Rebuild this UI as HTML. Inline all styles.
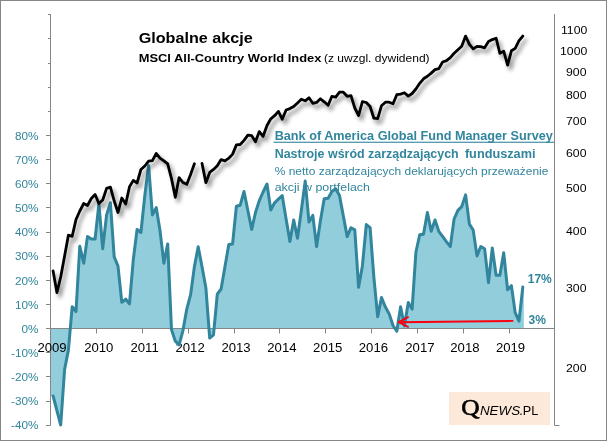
<!DOCTYPE html>
<html lang="pl">
<head>
<meta charset="utf-8">
<title>Globalne akcje</title>
<style>
html,body{margin:0;padding:0;background:#fff;}
body{width:607px;height:441px;overflow:hidden;font-family:"Liberation Sans",sans-serif;}
svg{display:block;}
text{font-family:"Liberation Sans",sans-serif;}
.serif{font-family:"Liberation Serif",serif;}
</style>
</head>
<body>
<svg width="607" height="441" viewBox="0 0 607 441">
<defs>
<filter id="sh" x="-5%" y="-5%" width="110%" height="115%">
<feGaussianBlur in="SourceAlpha" stdDeviation="1.9" result="b"/>
<feOffset in="b" dx="2.6" dy="4" result="o"/>
<feComponentTransfer in="o" result="s"><feFuncA type="linear" slope="0.46"/></feComponentTransfer>
<feMerge><feMergeNode in="s"/><feMergeNode in="SourceGraphic"/></feMerge>
</filter>
</defs>
<rect x="0" y="0" width="607" height="441" fill="#fff"/>
<rect x="0.5" y="0.5" width="606" height="440" fill="none" stroke="#868686" stroke-width="1"/>
<!-- logo -->
<rect x="449" y="392" width="101" height="33" fill="#fde9d9"/>
<text class="serif" x="461.2" y="415.2" font-size="22.8" fill="#000" stroke="#000" stroke-width="0.6" textLength="18.4" lengthAdjust="spacingAndGlyphs">Q</text>
<text x="479.9" y="415.3" font-size="12.9" font-style="italic" fill="#000" textLength="40.2" lengthAdjust="spacingAndGlyphs">NEWS</text>
<text x="519.2" y="415.3" font-size="12.9" fill="#000" textLength="19" lengthAdjust="spacingAndGlyphs">.PL</text>
<!-- area -->
<path d="M51,328.4 L51,396 L53.1,396 L56.9,410.5 L60.7,425 L64.6,369.5 L68.4,350.1 L72.2,306.7 L76,311.5 L79.8,246.3 L83.7,263.2 L87.5,236.6 L91.3,239 L95.1,239 L98.9,204 L102.7,248.7 L106.6,214.9 L110.4,202.8 L114.2,256.9 L118,266.1 L121.8,302.3 L125.7,299.2 L129.5,303.8 L133.3,259.6 L137.1,229.4 L140.9,232.5 L144.8,195.6 L148.6,165.4 L152.4,214.9 L156.2,207.6 L160,230.6 L163.9,263.2 L167.7,243.9 L171.5,329.6 L175.3,341.2 L179.1,344.8 L182.9,330.8 L186.8,309.1 L190.6,294.6 L194.4,266.6 L198.2,246.8 L202,266.6 L205.9,288.1 L209.7,338.1 L213.5,334.9 L217.3,294.1 L221.1,289 L225,266.6 L228.8,244.4 L232.6,243.9 L236.4,206.2 L240.2,205.2 L244,191.5 L247.9,210.8 L251.7,229.4 L255.5,212.5 L259.3,200.6 L263.1,192 L267,184 L270.8,210.1 L274.6,202.8 L278.4,199.2 L282.2,195.6 L286.1,219 L289.9,241.5 L293.7,220 L297.5,238.3 L301.3,210.8 L305.2,181.1 L309,222.1 L312.8,215.4 L316.6,246.5 L320.4,220.9 L324.2,198.7 L328.1,198.2 L331.9,191.5 L335.7,188.8 L339.5,195.6 L343.3,215.9 L347.2,236.6 L351,227.7 L354.8,229.9 L358.6,287.3 L362.4,265.9 L366.3,224.6 L370.1,227.7 L373.9,277.7 L377.7,316.8 L381.5,297.5 L385.4,307.1 L389.2,313.9 L393,325.5 L396.8,331.3 L400.6,306.7 L404.4,326 L408.3,302.6 L412.1,309.1 L415.9,252.3 L419.7,234.7 L423.5,234.2 L427.4,212.5 L431.2,231.3 L435,220 L438.8,231.3 L442.6,236.4 L446.5,241.9 L450.3,246.5 L454.1,219 L457.9,210.3 L461.7,206.7 L465.6,194.9 L469.4,224.1 L473.2,230.1 L477,255.9 L480.8,246.5 L484.6,248.7 L488.5,282.5 L492.3,248 L496.1,275.3 L499.9,275.3 L503.7,252.8 L507.6,289.8 L511.4,285.7 L515.2,312.7 L519,321.2 L522.8,287.1 L523.8,287.1 L523.8,328.4 Z" fill="#92cddc"/>
<!-- axes -->
<g stroke="#868686" stroke-width="1" fill="none">
<path d="M50.5,14V425.5"/>
<path d="M554.5,14V425.5M554.5,425.5H559.5"/>
<path d="M50.5,328.5H554.5"/>
<path d="M46,425.5H50.5M46,401.5H50.5M46,376.5H50.5M46,352.5H50.5M46,328.5H50.5M46,304.5H50.5M46,280.5H50.5M46,256.5H50.5M46,232.5H50.5M46,207.5H50.5M46,183.5H50.5M46,159.5H50.5M46,135.5H50.5M48,111.5H50.5M48,87.5H50.5M48,63.5H50.5M48,38.5H50.5M48,14.5H50.5"/>
<path d="M96.5,328.5V333.5M142.5,328.5V333.5M188.5,328.5V333.5M234.5,328.5V333.5M279.5,328.5V333.5M325.5,328.5V333.5M371.5,328.5V333.5M417.5,328.5V333.5M463.5,328.5V333.5M509.5,328.5V333.5"/>
</g>
<!-- titles -->
<text x="138.7" y="42.6" font-size="15.2" font-weight="bold" fill="#000" textLength="114" lengthAdjust="spacingAndGlyphs">Globalne akcje</text>
<text x="138.7" y="61.8" font-size="11.6" font-weight="bold" fill="#000" textLength="182.7" lengthAdjust="spacingAndGlyphs">MSCI All-Country World Index</text>
<text x="324" y="61.7" font-size="10.7" fill="#000" textLength="105.6" lengthAdjust="spacingAndGlyphs">(z uwzgl. dywidend)</text>
<g fill="#31859c">
<text x="274.7" y="139.8" font-size="11.9" font-weight="bold" textLength="278.1" lengthAdjust="spacingAndGlyphs">Bank of America Global Fund Manager Survey</text>
<rect x="273.5" y="141.7" width="280.5" height="1.1"/>
<text x="274.7" y="157.6" font-size="11.9" font-weight="bold" textLength="184" lengthAdjust="spacingAndGlyphs">Nastroje wśród zarządzających</text>
<text x="464.9" y="157.6" font-size="11.9" font-weight="bold" textLength="70.6" lengthAdjust="spacingAndGlyphs">funduszami</text>
<text x="274.7" y="174.9" font-size="10.7" textLength="273.7" lengthAdjust="spacingAndGlyphs">% netto zarządzających deklarujących przeważenie</text>
<text x="274.7" y="190.8" font-size="10.7" textLength="95.3" lengthAdjust="spacingAndGlyphs">akcji w portfelach</text>
</g>
<!-- axis labels -->
<g font-size="11.4" fill="#31859c"><text transform="matrix(1.03 0 0 1 38.5 429.2)" text-anchor="end">-40%</text><text transform="matrix(1.03 0 0 1 38.5 405.1)" text-anchor="end">-30%</text><text transform="matrix(1.03 0 0 1 38.5 381)" text-anchor="end">-20%</text><text transform="matrix(1.03 0 0 1 38.5 356.9)" text-anchor="end">-10%</text><text transform="matrix(1.03 0 0 1 38.5 332.7)" text-anchor="end">0%</text><text transform="matrix(1.03 0 0 1 38.5 308.6)" text-anchor="end">10%</text><text transform="matrix(1.03 0 0 1 38.5 284.5)" text-anchor="end">20%</text><text transform="matrix(1.03 0 0 1 38.5 260.4)" text-anchor="end">30%</text><text transform="matrix(1.03 0 0 1 38.5 236.3)" text-anchor="end">40%</text><text transform="matrix(1.03 0 0 1 38.5 212.2)" text-anchor="end">50%</text><text transform="matrix(1.03 0 0 1 38.5 188)" text-anchor="end">60%</text><text transform="matrix(1.03 0 0 1 38.5 163.9)" text-anchor="end">70%</text><text transform="matrix(1.03 0 0 1 38.5 139.8)" text-anchor="end">80%</text></g>
<g font-size="11.4" fill="#000"><text transform="matrix(1.075 0 0 1 587.3 34.1)" text-anchor="end">1100</text><text transform="matrix(1.075 0 0 1 587.3 55.3)" text-anchor="end">1000</text><text transform="matrix(1.075 0 0 1 586.5 76.3)" text-anchor="end">900</text><text transform="matrix(1.075 0 0 1 586.5 99.2)" text-anchor="end">800</text><text transform="matrix(1.075 0 0 1 586.5 125.1)" text-anchor="end">700</text><text transform="matrix(1.075 0 0 1 586.5 157.3)" text-anchor="end">600</text><text transform="matrix(1.075 0 0 1 586.5 192.2)" text-anchor="end">500</text><text transform="matrix(1.075 0 0 1 586.5 235.3)" text-anchor="end">400</text><text transform="matrix(1.075 0 0 1 586.5 292.1)" text-anchor="end">300</text><text transform="matrix(1.075 0 0 1 586.5 372.1)" text-anchor="end">200</text></g>
<g font-size="12.3" fill="#000"><text transform="matrix(1.07 0 0 1 52 352)" text-anchor="middle">2009</text><text transform="matrix(1.07 0 0 1 98.8 352)" text-anchor="middle">2010</text><text transform="matrix(1.07 0 0 1 144.6 352)" text-anchor="middle">2011</text><text transform="matrix(1.07 0 0 1 190.1 352)" text-anchor="middle">2012</text><text transform="matrix(1.07 0 0 1 236 352)" text-anchor="middle">2013</text><text transform="matrix(1.07 0 0 1 281.9 352)" text-anchor="middle">2014</text><text transform="matrix(1.07 0 0 1 327.7 352)" text-anchor="middle">2015</text><text transform="matrix(1.07 0 0 1 373.4 352)" text-anchor="middle">2016</text><text transform="matrix(1.07 0 0 1 419.9 352)" text-anchor="middle">2017</text><text transform="matrix(1.07 0 0 1 464.9 352)" text-anchor="middle">2018</text><text transform="matrix(1.07 0 0 1 510.5 352)" text-anchor="middle">2019</text></g>
<!-- teal line -->
<polyline points="53.1,396 56.9,410.5 60.7,425 64.6,369.5 68.4,350.1 72.2,306.7 76,311.5 79.8,246.3 83.7,263.2 87.5,236.6 91.3,239 95.1,239 98.9,204 102.7,248.7 106.6,214.9 110.4,202.8 114.2,256.9 118,266.1 121.8,302.3 125.7,299.2 129.5,303.8 133.3,259.6 137.1,229.4 140.9,232.5 144.8,195.6 148.6,165.4 152.4,214.9 156.2,207.6 160,230.6 163.9,263.2 167.7,243.9 171.5,329.6 175.3,341.2 179.1,344.8 182.9,330.8 186.8,309.1 190.6,294.6 194.4,266.6 198.2,246.8 202,266.6 205.9,288.1 209.7,338.1 213.5,334.9 217.3,294.1 221.1,289 225,266.6 228.8,244.4 232.6,243.9 236.4,206.2 240.2,205.2 244,191.5 247.9,210.8 251.7,229.4 255.5,212.5 259.3,200.6 263.1,192 267,184 270.8,210.1 274.6,202.8 278.4,199.2 282.2,195.6 286.1,219 289.9,241.5 293.7,220 297.5,238.3 301.3,210.8 305.2,181.1 309,222.1 312.8,215.4 316.6,246.5 320.4,220.9 324.2,198.7 328.1,198.2 331.9,191.5 335.7,188.8 339.5,195.6 343.3,215.9 347.2,236.6 351,227.7 354.8,229.9 358.6,287.3 362.4,265.9 366.3,224.6 370.1,227.7 373.9,277.7 377.7,316.8 381.5,297.5 385.4,307.1 389.2,313.9 393,325.5 396.8,331.3 400.6,306.7 404.4,326 408.3,302.6 412.1,309.1 415.9,252.3 419.7,234.7 423.5,234.2 427.4,212.5 431.2,231.3 435,220 438.8,231.3 442.6,236.4 446.5,241.9 450.3,246.5 454.1,219 457.9,210.3 461.7,206.7 465.6,194.9 469.4,224.1 473.2,230.1 477,255.9 480.8,246.5 484.6,248.7 488.5,282.5 492.3,248 496.1,275.3 499.9,275.3 503.7,252.8 507.6,289.8 511.4,285.7 515.2,312.7 519,321.2 522.8,287.1" fill="none" stroke="#31859c" stroke-width="3" stroke-linejoin="round" stroke-linecap="round"/>
<!-- black line -->
<g fill="none" stroke="#000" stroke-width="2.8" stroke-linejoin="round" stroke-linecap="round" filter="url(#sh)">
<polyline points="53.1,271 56.9,292.6 60.7,277 64.6,256 68.4,235.2 72.2,236.3 76,219.5 79.8,211 83.7,203.5 87.5,205.5 91.3,198.5 95.1,194.5 98.9,203.5 102.7,200 106.6,188.4 110.4,187.2 114.2,201 118,212.5 121.8,198 125.7,204 129.5,186.7 133.3,180.4 137.1,183 140.9,169.5 144.8,166 148.6,161.2 152.4,160.6 156.2,153.5 160,158.2 163.9,160.8 167.7,163.9 171.5,178.6 175.3,197.3 179.1,177.6 182.9,182.5 186.8,184.3 190.6,174.5 194.4,163.7"/>
<polyline points="202,163.3 205.9,182.7 209.7,172.4 213.5,169.4 217.3,165.7 221.1,159.6 225,160.8 228.8,158.2 232.6,154.1 236.4,144.9 240.2,144.5 244,140.4 247.9,135.1 251.7,135.7 255.5,141.8 259.3,131.6 263.1,136.3 267,125.5 270.8,118.8 274.6,115.7 278.4,111.4 282.2,119.2 286.1,110 289.9,108.6 293.7,106.5 297.5,102.9 301.3,99.2 305.2,100.8 309,97.8 312.8,103.3 316.6,102.4 320.4,98.8 324.2,101.8 328.1,105.3 331.9,96.3 335.7,97.1 339.5,92.2 343.3,92.2 347.2,96.3 351,95.7 354.8,108 358.6,115.5 362.4,101.7 366.3,102.5 370.1,106.5 373.9,118.2 377.7,118.6 381.5,105.7 385.4,102.2 389.2,102.2 393,103.7 396.8,94.7 400.6,94.1 404.4,92.7 408.3,96.1 412.1,93.5 415.9,89 419.7,83.3 423.5,78.8 427.4,76.3 431.2,73.1 435,69.6 438.8,68.6 442.6,62 446.5,60.6 450.3,57.6 454.1,53.3 457.9,49.7 461.7,46.3 465.6,36.1 469.4,44.3 473.2,48.8 477,46.3 480.8,46.7 484.6,47.8 488.5,41.6 492.3,39.6 496.1,38.2 499.9,53.3 503.7,51.2 507.6,65.1 511.4,50.8 515.2,48.4 519,40.6 522.8,36.1"/>
</g>
<!-- arrow -->
<g fill="none" stroke="#fa0010" stroke-width="1.9" stroke-linecap="round" stroke-linejoin="round">
<path d="M512.6,320.9L399,322.2"/>
<path d="M408,317.2L398.6,322.2L408,326.8"/>
</g>
<g fill="#31859c" font-size="11.9" font-weight="bold">
<text x="527.7" y="282.5" textLength="24.1" lengthAdjust="spacingAndGlyphs">17%</text>
<text x="528.5" y="324.3" textLength="17.4" lengthAdjust="spacingAndGlyphs">3%</text>
</g>
</svg>
</body>
</html>
